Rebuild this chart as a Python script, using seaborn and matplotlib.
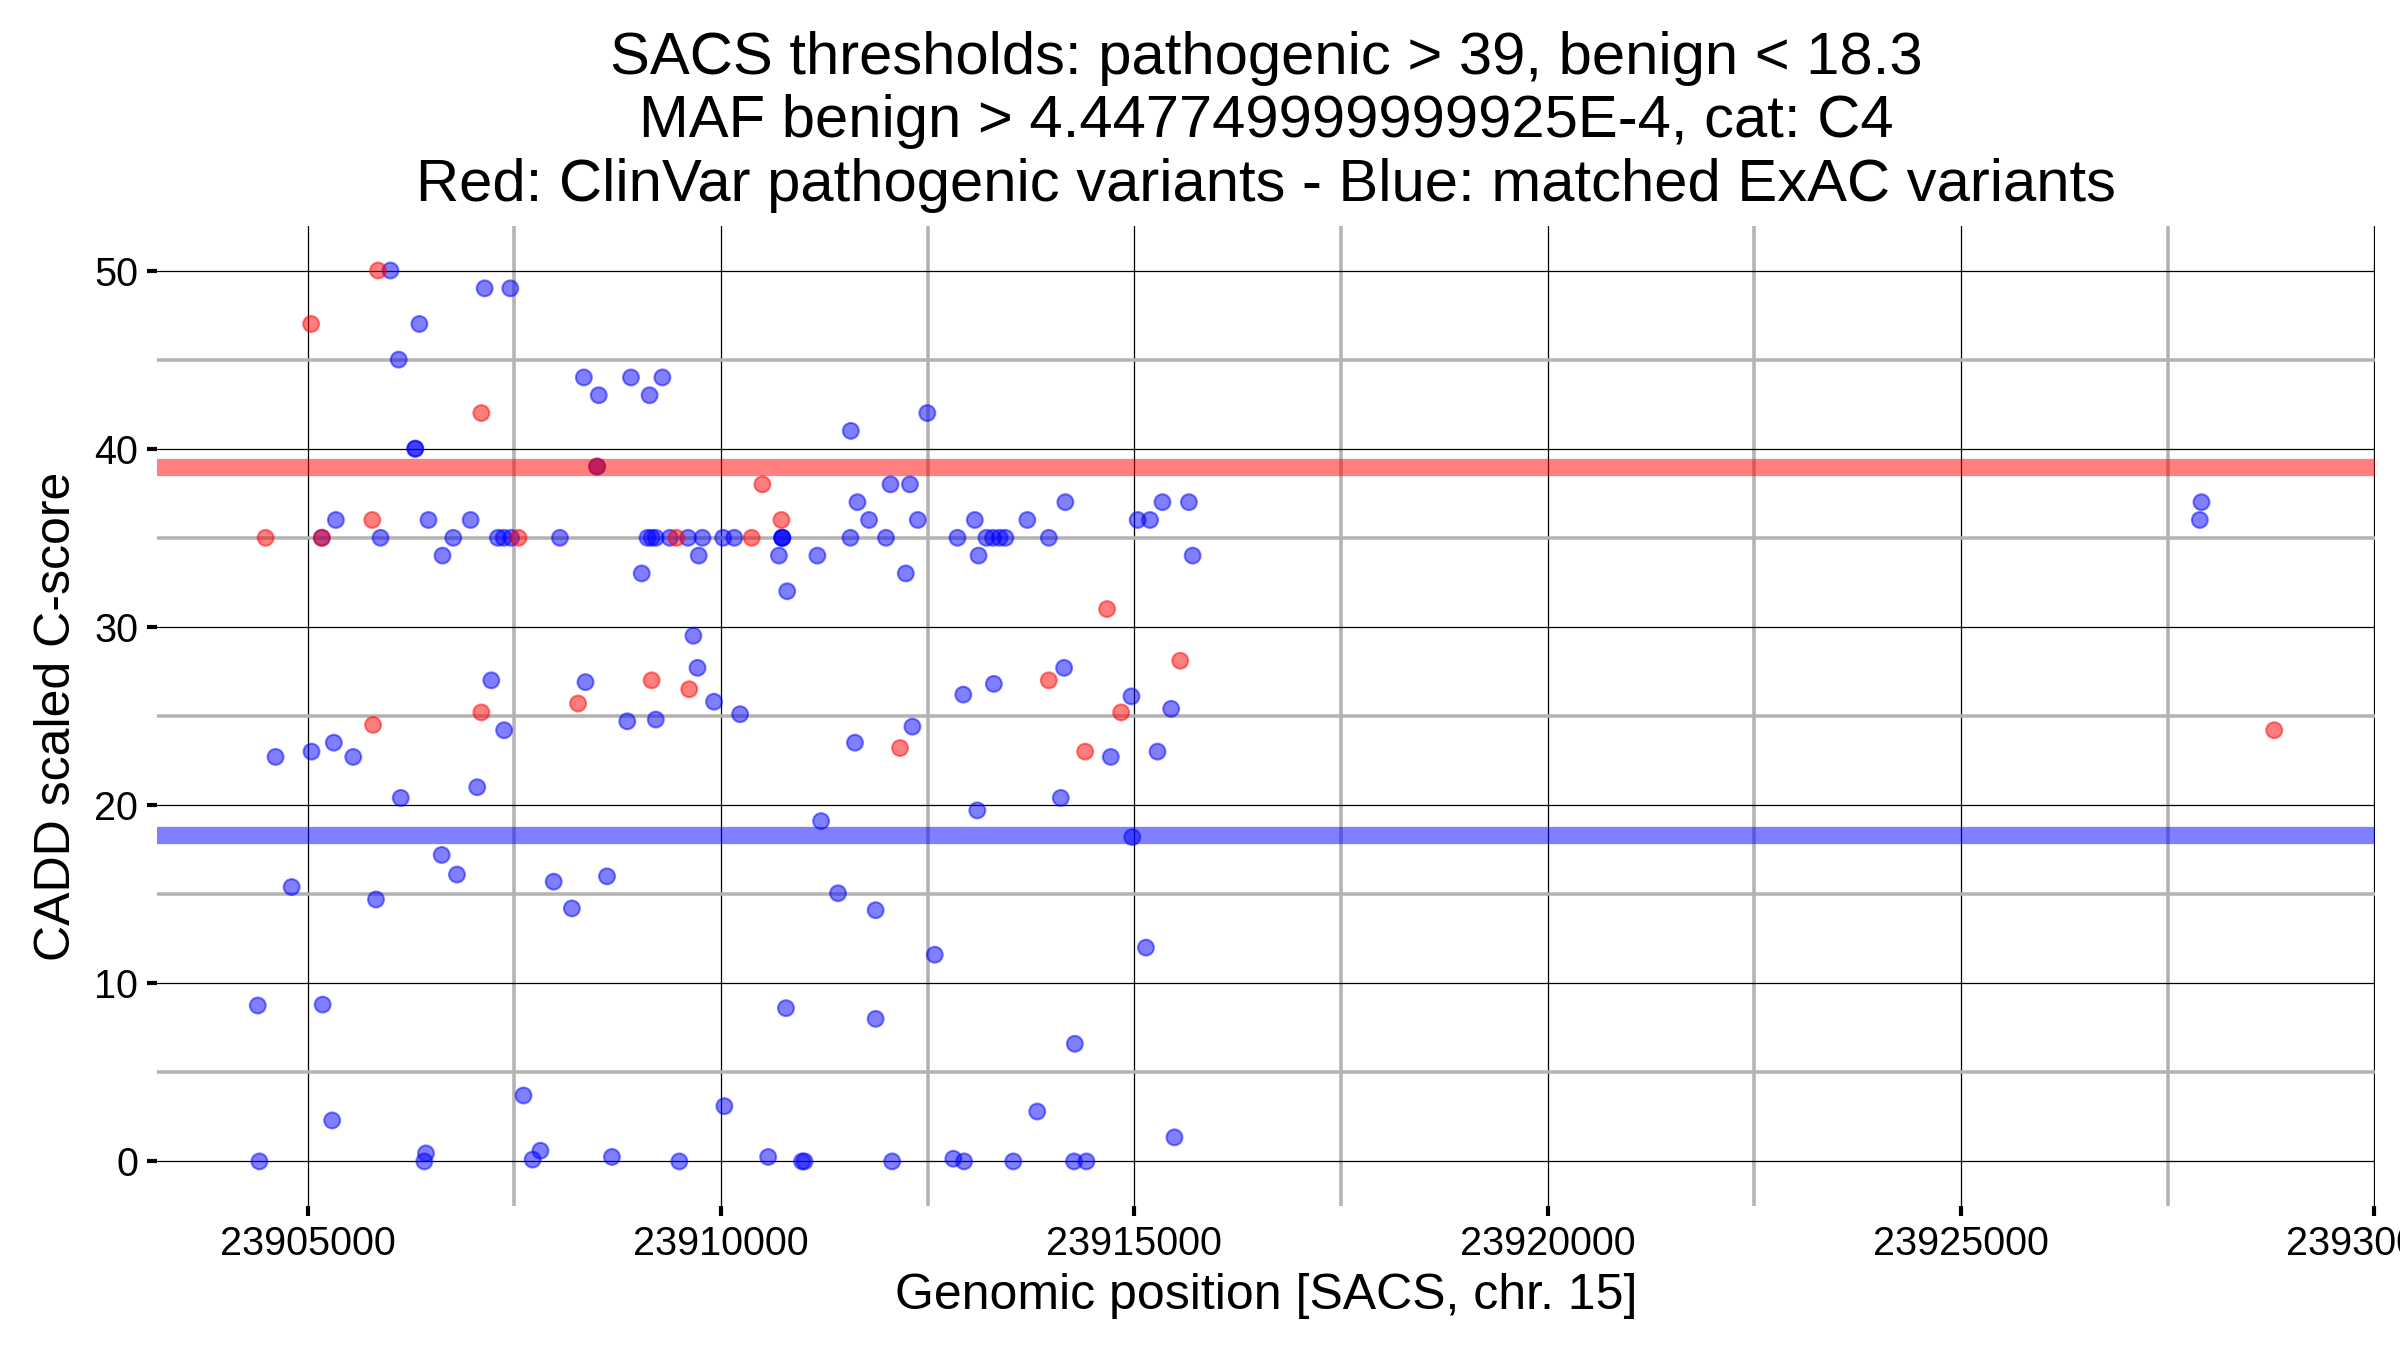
import numpy as np
import pandas as pd
import matplotlib
matplotlib.use('Agg')
import matplotlib.pyplot as plt
import seaborn as sns

# ClinVar pathogenic variants (red)
clinvar_pos = [23904490, 23905040, 23905170, 23905780, 23905790, 23905850, 23907100, 23907100,
               23907550, 23908270, 23908500, 23909160, 23909460, 23909615, 23910370, 23910500,
               23910730, 23912165, 23913965, 23914405, 23914670, 23914840, 23915555, 23928790]
clinvar_cadd = [35, 47, 35, 36, 24.5, 50, 42, 25.2,
                35, 25.7, 39, 27, 35, 26.5, 35, 38,
                36, 23.2, 27, 23, 31, 25.2, 28.1, 24.2]

# matched ExAC variants (blue)
exac_pos = [23906000, 23907140, 23907450, 23906350, 23906100,
            23908340, 23908910, 23909290, 23908520, 23909135,
            23912495, 23911570, 23906300, 23906300, 23908500,
            23912050, 23912285,
            23911650, 23914165, 23915340, 23915660, 23927910,
            23905340, 23906460, 23906970, 23911790, 23912380, 23913070, 23913705, 23915040,
            23915190, 23927890,
            23905170, 23905880, 23906760, 23907300, 23907370, 23907460, 23908050, 23909110,
            23909160, 23909210, 23909380, 23909600, 23909775, 23910025, 23910160, 23910740,
            23910740, 23910740, 23911565, 23911995, 23912860, 23913210, 23913290, 23913370,
            23913440, 23913965,
            23906630, 23909730, 23910700, 23911165, 23913115, 23915705,
            23909040, 23912235, 23910800,
            23909665, 23909715, 23914150, 23907220, 23908360, 23913300, 23912930, 23914965,
            23909915, 23915445, 23910230, 23909210, 23908865, 23912315, 23907375,
            23905315, 23911620, 23905045, 23915280, 23904610, 23905550, 23914715,
            23907050, 23906125, 23914110, 23913100, 23911210, 23914975,
            23906620, 23906805, 23908620, 23907975, 23904805, 23911415, 23905825, 23908195,
            23911870, 23915140, 23912585, 23905180, 23904395, 23910785, 23911870, 23914280,
            23907610, 23910040, 23913825, 23905295, 23915485, 23907815, 23906430,
            23908680, 23910570, 23912810, 23907720,
            23904415, 23906410, 23909495, 23910980, 23911010, 23912070, 23912940, 23913535,
            23914270, 23914420]
exac_cadd = [50, 49, 49, 47, 45,
             44, 44, 44, 43, 43,
             42, 41, 40, 40, 39,
             38, 38,
             37, 37, 37, 37, 37,
             36, 36, 36, 36, 36, 36, 36, 36,
             36, 36,
             35, 35, 35, 35, 35, 35, 35, 35,
             35, 35, 35, 35, 35, 35, 35, 35,
             35, 35, 35, 35, 35, 35, 35, 35,
             35, 35,
             34, 34, 34, 34, 34, 34,
             33, 33, 32,
             29.5, 27.7, 27.7, 27, 26.9, 26.8, 26.2, 26.1,
             25.8, 25.4, 25.1, 24.8, 24.7, 24.4, 24.2,
             23.5, 23.5, 23, 23, 22.7, 22.7, 22.7,
             21, 20.4, 20.4, 19.7, 19.1, 18.2,
             17.2, 16.1, 16, 15.7, 15.4, 15.05, 14.7, 14.2,
             14.1, 12, 11.6, 8.8, 8.75, 8.6, 8, 6.6,
             3.7, 3.1, 2.8, 2.3, 1.35, 0.6, 0.45,
             0.25, 0.25, 0.15, 0.1,
             0, 0, 0, 0, 0, 0, 0, 0,
             0, 0]

pathogenic_threshold = 39
benign_threshold = 18.3

title = ('SACS thresholds: pathogenic > 39, benign < 18.3\n'
         'MAF benign > 4.447749999999925E-4, cat: C4\n'
         'Red: ClinVar pathogenic variants - Blue: matched ExAC variants')

df = pd.concat([
    pd.DataFrame({'pos': exac_pos, 'cadd': exac_cadd, 'source': 'ExAC'}),
    pd.DataFrame({'pos': clinvar_pos, 'cadd': clinvar_cadd, 'source': 'ClinVar'}),
], ignore_index=True)

sns.set_theme(style='white')
plt.rcParams['font.family'] = ['Liberation Sans', 'DejaVu Sans']

fig, ax = plt.subplots(figsize=(16, 9), dpi=150)
fig.subplots_adjust(left=0.0654, right=0.9896, top=0.8326, bottom=0.1067)

ax.axhline(pathogenic_threshold, color='red', alpha=0.5, lw=8.3, zorder=1)
ax.axhline(benign_threshold, color='blue', alpha=0.5, lw=8.3, zorder=1)

sns.scatterplot(data=df, x='pos', y='cadd', hue='source',
                palette={'ExAC': 'blue', 'ClinVar': 'red'},
                alpha=0.5, s=58, linewidth=1.0, legend=False, ax=ax, zorder=2)
ax.collections[-1].set_edgecolor(ax.collections[-1].get_facecolor())

xmin, xmax = df.pos.min(), df.pos.max()
pad = 0.05 * (xmax - xmin)
ax.set_xlim(xmin - pad, xmax + pad)
ax.set_ylim(-2.5, 52.5)

ax.set_xticks(np.arange(23905000, 23930001, 5000))
ax.set_xticks(np.arange(23907500, 23930001, 5000), minor=True)
ax.set_yticks(np.arange(0, 51, 10))
ax.set_yticks(np.arange(5, 50, 10), minor=True)
ax.ticklabel_format(axis='x', style='plain', useOffset=False)

ax.grid(which='minor', color='#b3b3b3', lw=1.7, zorder=0)
ax.grid(which='major', color='black', lw=0.6, zorder=0)
ax.set_axisbelow(True)
for s in ax.spines.values():
    s.set_visible(False)

ax.tick_params(which='major', direction='out', length=5, width=2, color='black',
               labelsize=19, labelcolor='black', bottom=True, left=True, pad=4)
ax.tick_params(which='minor', length=0)

ax.set_xlabel('Genomic position [SACS, chr. 15]', fontsize=24, color='black', labelpad=5)
ax.set_ylabel('CADD scaled C-score', fontsize=24, color='black', labelpad=7)
ax.set_title(title, fontsize=28.7, color='black', pad=12, linespacing=1.2)

fig.savefig('out.png', dpi=150)
